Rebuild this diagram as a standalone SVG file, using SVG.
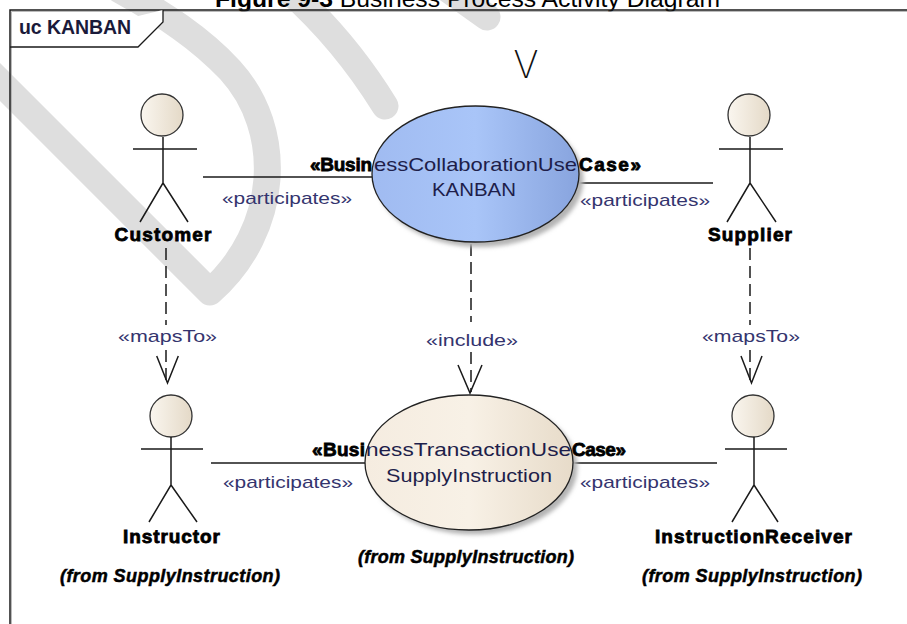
<svg xmlns="http://www.w3.org/2000/svg" width="907" height="624" viewBox="0 0 907 624">
<defs>
<style>
.wm{fill:none;stroke:#dedede;stroke-width:27;stroke-linecap:round;stroke-linejoin:round}
.ln{stroke:#1a1a1a;stroke-width:1.5;fill:none}
.dash{stroke:#1a1a1a;stroke-width:1.5;fill:none;stroke-dasharray:12 6}
.st{font-family:"Liberation Sans",Arial,sans-serif;font-size:17px;fill:#34346e}
.al{font-family:"Liberation Sans",Arial,sans-serif;font-size:19px;font-weight:bold;fill:#000;stroke:#000;stroke-width:0.8;text-anchor:middle}
.fr{font-family:"Liberation Sans",Arial,sans-serif;font-size:18px;font-weight:bold;font-style:italic;fill:#000;stroke:#000;stroke-width:0.5;text-anchor:middle}
.head{fill:url(#hg);stroke:#333;stroke-width:1.3}
.uc{font-family:"Liberation Sans",Arial,sans-serif;font-size:19px}
.b{font-weight:bold;fill:#000;stroke:#000;stroke-width:0.8}
.r{fill:#1e1e4a}
</style>
<linearGradient id="hg" x1="0" y1="0" x2="1" y2="0"><stop offset="0" stop-color="#faf6ef"/><stop offset="1" stop-color="#e4d9c7"/></linearGradient>
<linearGradient id="bg" x1="0" y1="0" x2="1" y2="0"><stop offset="0" stop-color="#a0bbf1"/><stop offset="0.5" stop-color="#a9c5f8"/><stop offset="1" stop-color="#88a4de"/></linearGradient>
<linearGradient id="eg" x1="0" y1="0" x2="1" y2="0"><stop offset="0" stop-color="#f5ece0"/><stop offset="0.5" stop-color="#f8f1e6"/><stop offset="1" stop-color="#e7dbc9"/></linearGradient>
<filter id="sh" x="-10%" y="-10%" width="120%" height="120%"><feGaussianBlur stdDeviation="2"/></filter>
</defs>
<rect width="907" height="624" fill="#fff"/>
<g id="watermark">
<path class="wm" d="M-40,42 L210,292 C280,230 285,130 230,70 C200,38 165,15 120,-10"/>
<path class="wm" d="M262,-32 Q335,25 385,106"/>
<path class="wm" d="M428,-25 L487,17"/>
</g>
<text x="215" y="6.5" font-family="Liberation Sans,Arial,sans-serif" font-size="24.5" fill="#000" textLength="505" lengthAdjust="spacingAndGlyphs"><tspan font-weight="bold">Figure 9-3</tspan> Business Process Activity Diagram</text>
<g id="frame">
<path d="M10,624 V10 H907" fill="none" stroke="#1a1a1a" stroke-width="1.5"/>
<path d="M11.5,624 V11.5 H907" fill="none" stroke="#aaa" stroke-width="0.8"/>
<path d="M10,47 H138 L163,22 V10" fill="#fff" stroke="#1a1a1a" stroke-width="1.3"/>
<text x="19" y="34" font-family="Liberation Sans,Arial,sans-serif" font-size="19.5" font-weight="bold" fill="#1a1a3a" textLength="112">uc KANBAN</text>
</g>
<text x="526" y="78" font-family="Inter,Lato,'Open Sans',sans-serif" font-size="38" font-weight="200" fill="#111" text-anchor="middle">V</text>
<g id="connectors">
<line class="ln" x1="203" y1="177" x2="372" y2="177"/>
<text class="st" x="222" y="204" textLength="130" lengthAdjust="spacingAndGlyphs">«participates»</text>
<line class="ln" x1="579" y1="183" x2="713" y2="183"/>
<text class="st" x="580" y="206" textLength="130" lengthAdjust="spacingAndGlyphs">«participates»</text>
<line class="ln" x1="211" y1="463" x2="366" y2="463"/>
<text class="st" x="223" y="488" textLength="130" lengthAdjust="spacingAndGlyphs">«participates»</text>
<line class="ln" x1="573" y1="463" x2="717" y2="463"/>
<text class="st" x="580" y="488" textLength="130" lengthAdjust="spacingAndGlyphs">«participates»</text>
<path class="dash" d="M166,248 V325 M166,350 V383"/>
<polyline class="ln" points="156.7,356 167.5,383 178.3,356"/>
<text class="st" x="118" y="342" textLength="99" lengthAdjust="spacingAndGlyphs">«mapsTo»</text>
<path class="dash" d="M750,248 V325 M750,350 V383"/>
<polyline class="ln" points="741,356 751.5,383 762,356"/>
<text class="st" x="702" y="342" textLength="98" lengthAdjust="spacingAndGlyphs">«mapsTo»</text>
<path class="dash" d="M471,244 V322 M471,352 V392"/>
<polyline class="ln" points="458,365 470,393 482,365"/>
<text class="st" x="426" y="346" textLength="92" lengthAdjust="spacingAndGlyphs">«include»</text>
</g>
<g id="uc-kanban">
<ellipse cx="480" cy="179" rx="103.5" ry="68" fill="#b4b4b4" filter="url(#sh)"/>
<ellipse cx="475.5" cy="174" rx="103.5" ry="68" fill="url(#bg)" stroke="#222" stroke-width="1.3"/>
<text class="uc" y="171"><tspan class="b" x="310" textLength="62">«Busin</tspan><tspan class="r" x="374" textLength="203" lengthAdjust="spacingAndGlyphs">essCollaborationUse</tspan><tspan class="b" x="579" textLength="62">Case»</tspan></text>
<text class="uc r" x="474" y="196" text-anchor="middle" textLength="84" lengthAdjust="spacingAndGlyphs">KANBAN</text>
</g>
<g id="uc-supplyinstruction">
<ellipse cx="473.5" cy="467" rx="104" ry="67.5" fill="#b4b4b4" filter="url(#sh)"/>
<ellipse cx="469" cy="462.5" rx="104" ry="67.5" fill="url(#eg)" stroke="#222" stroke-width="1.3"/>
<text class="uc" y="456"><tspan class="b" x="312" textLength="53">«Busi</tspan><tspan class="r" x="366" textLength="205" lengthAdjust="spacingAndGlyphs">nessTransactionUse</tspan><tspan class="b" x="572" textLength="54">Case»</tspan></text>
<text class="uc r" x="469" y="482" text-anchor="middle" textLength="166" lengthAdjust="spacingAndGlyphs">SupplyInstruction</text>
<text class="fr" x="466" y="563" textLength="216">(from SupplyInstruction)</text>
</g>
<g id="actor-customer">
<circle class="head" cx="162" cy="115" r="21"/>
<path class="ln" d="M133,149 H197 M163,137 V183 L140,222 M163,183 L188,222"/>
<text class="al" x="163" y="241" textLength="97">Customer</text>
</g>
<g id="actor-supplier">
<circle class="head" cx="749" cy="115" r="21"/>
<path class="ln" d="M719,149 H783 M750,137 V183 L727,222 M750,183 L776,222"/>
<text class="al" x="750" y="241" textLength="84">Supplier</text>
</g>
<g id="actor-instructor">
<circle class="head" cx="171" cy="416" r="21"/>
<path class="ln" d="M141,449 H203 M171,437 V485 L149,522 M171,485 L197,522"/>
<text class="al" x="171.5" y="543" textLength="97">Instructor</text>
<text class="fr" x="170" y="582" textLength="220">(from SupplyInstruction)</text>
</g>
<g id="actor-instructionreceiver">
<circle class="head" cx="753" cy="416" r="21"/>
<path class="ln" d="M725,449 H787 M754,437 V485 L732,522 M754,485 L778,522"/>
<text class="al" x="753.5" y="543" textLength="197">InstructionReceiver</text>
<text class="fr" x="752" y="582" textLength="220">(from SupplyInstruction)</text>
</g>
</svg>
